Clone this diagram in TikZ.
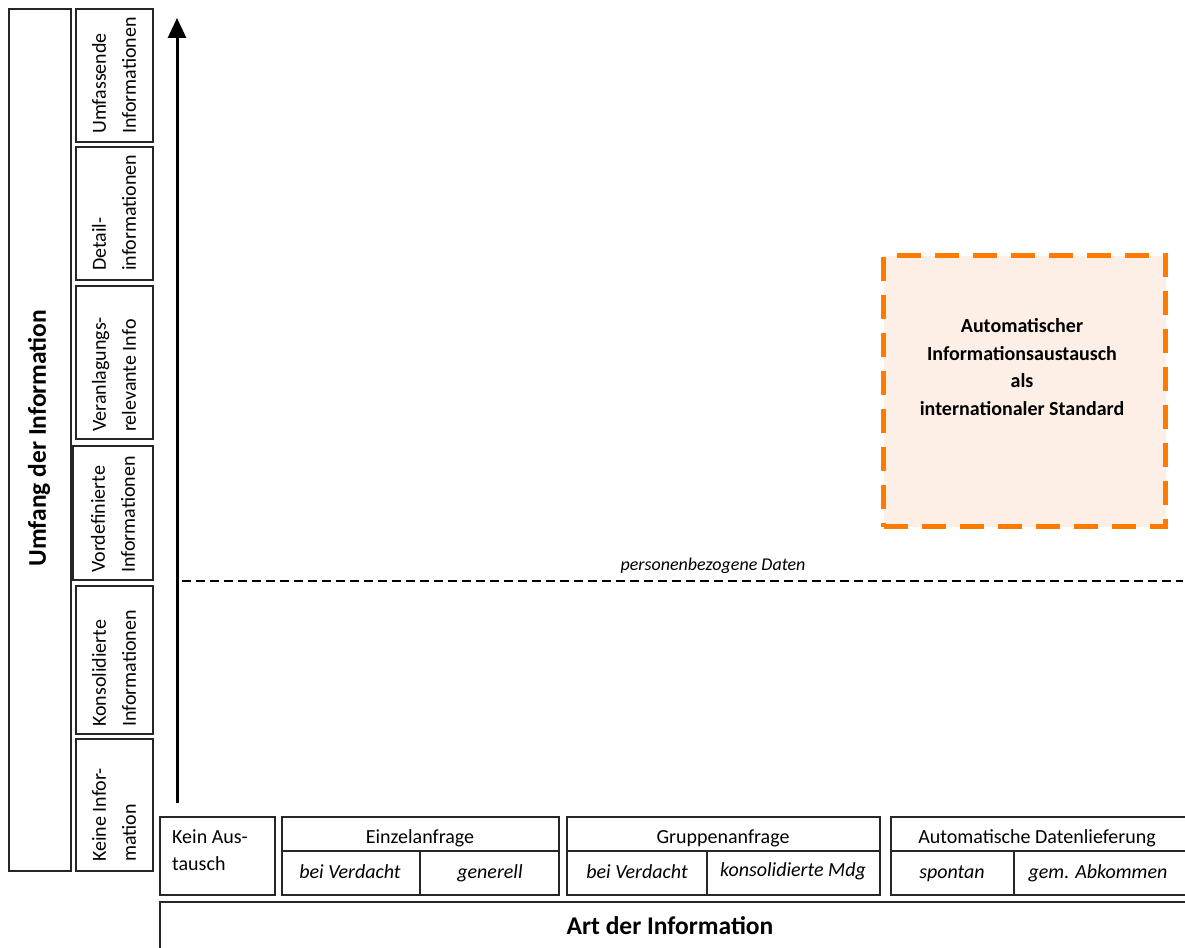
\documentclass[tikz,border=0pt]{standalone}
\usepackage{fontspec}
\setmainfont{Carlito}
\usetikzlibrary{arrows.meta}
\definecolor{orng}{HTML}{FF7A00}
\definecolor{peach}{HTML}{FDEFE6}
\tikzset{
  box/.style={draw=black!85, line width=1.6pt, anchor=north west, inner sep=0pt, rectangle},
  vlab/.style={rotate=90, anchor=west, align=left, inner sep=0pt, font=\fontsize{20}{30}\selectfont},
  hlab/.style={inner sep=0pt, font=\fontsize{20}{25}\selectfont},
  ilab/.style={inner sep=0pt, text height=14pt, text depth=4pt, font=\fontsize{20}{25}\selectfont\itshape},
  title/.style={inner sep=0pt, font=\fontsize{25.5}{30}\selectfont\bfseries},
}
\begin{document}
\begin{tikzpicture}[x=1pt,y=-1pt]
\useasboundingbox (0,0) rectangle (1185,947);
% left big box
\node[box, minimum width=62pt, minimum height=862pt] (umf) at (8,8) {};
\node[title, rotate=90] (umft) at (39,438) {Umfang der Information};
% left column
\node[box, minimum width=77pt, minimum height=133pt] (b1) at (75,8) {};
\node[box, minimum width=77pt, minimum height=133pt] (b2) at (75,146) {};
\node[box, minimum width=77pt, minimum height=153pt] (b3) at (75,285) {};
\node[box, minimum width=80pt, minimum height=134pt, line width=2pt] (b4) at (72,445) {};
\node[box, minimum width=77pt, minimum height=148pt] (b5) at (75,585) {};
\node[box, minimum width=77pt, minimum height=132pt] (b6) at (75,738) {};
\node[vlab] (t1) at (114,134) {Umfassende\\Informationen};
\node[vlab] (t2) at (114,271) {Detail-\\informationen};
\node[vlab] (t3) at (114,432) {Veranlagungs-\\relevante Info};
\node[vlab] (t4) at (113,573) {Vordefinierte\\Informationen};
\node[vlab] (t5) at (114,727) {Konsolidierte\\Informationen};
\node[vlab] (t6) at (114,862) {Keine Infor-\\mation};
% axis arrow
\coordinate (abot) at (177,803);
\coordinate (atop) at (177,18);
\draw[line width=3pt, -{Triangle[length=20pt,width=18pt]}] (abot) -- (atop);
% dashed line
\coordinate (dl) at (182,581);
\coordinate (dr) at (1183,581);
\draw[line width=1.3pt, dash pattern=on 9pt off 5pt] (dl) -- (dr);
\node[inner sep=0pt, font=\fontsize{18}{20}\selectfont\itshape] (pd) at (713,566) {personenbezogene Daten};
% orange box
\node[anchor=north west, inner sep=0pt, minimum width=282pt, minimum height=271pt, fill=peach, draw=orng, line width=5pt, dash pattern=on 24pt off 14pt] (ai) at (881,253) {};
\node[inner sep=0pt, align=center, font=\fontsize{20}{27.8}\selectfont\bfseries] (ait) at (1022,367) {Automatischer\\Informationsaustausch\\als\\internationaler Standard};
% bottom boxes
\node[box, minimum width=115pt, minimum height=78pt] (kein) at (159,816) {};
\node[hlab, anchor=north west, align=left, font=\fontsize{20}{27}\selectfont] (keint) at (172,830) {Kein Aus-\\tausch};
\node[box, minimum width=277pt, minimum height=78pt] (ein) at (281,816) {};
\node[box, minimum width=313pt, minimum height=78pt] (grp) at (566,816) {};
\node[box, minimum width=295pt, minimum height=78pt] (aut) at (890,816) {};
\draw[line width=1.6pt, black!85] (ein.west |- 0,851) -- (ein.east |- 0,851);
\draw[line width=1.6pt, black!85] (grp.west |- 0,851) -- (grp.east |- 0,851);
\draw[line width=1.6pt, black!85] (aut.west |- 0,851) -- (aut.east |- 0,851);
\draw[line width=1.6pt, black!85] (420,851) -- (ein.south -| 420,0);
\draw[line width=1.6pt, black!85] (707,851) -- (grp.south -| 707,0);
\draw[line width=1.6pt, black!85] (1014,851) -- (aut.south -| 1014,0);
\node[hlab] (eint) at (420,838) {Einzelanfrage};
\node[hlab] (grpt) at (723,838) {Gruppenanfrage};
\node[hlab] (autt) at (1037,838) {Automatische Datenlieferung};
\node[ilab] (e1) at (350,873) {bei Verdacht};
\node[ilab] (e2) at (490,873) {generell};
\node[ilab] (g1) at (637,873) {bei Verdacht};
\node[ilab] (g2) at (793,871) {konsolidierte Mdg};
\node[ilab] (a1) at (952,873) {spontan};
\node[ilab] (a2) at (1098,873) {gem. Abkommen};
\node[box, minimum width=1026pt, minimum height=60pt] (art) at (159,901) {};
\node[title] (artt) at (670,926) {Art der Information};
\end{tikzpicture}
\end{document}
